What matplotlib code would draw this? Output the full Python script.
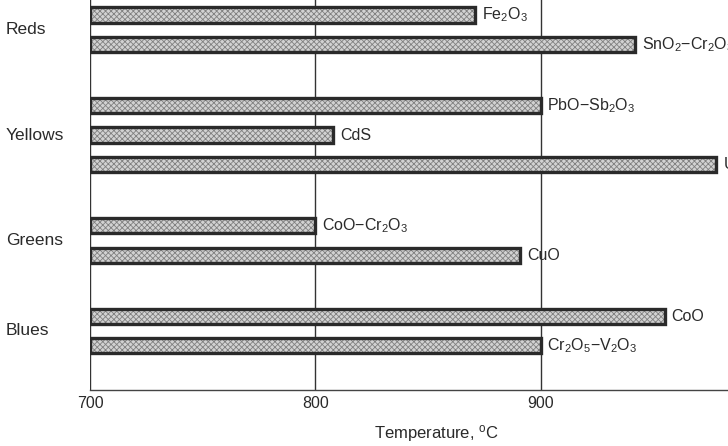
import matplotlib
matplotlib.use("Agg")
import matplotlib.pyplot as plt
from matplotlib.transforms import blended_transform_factory

plt.rcParams['font.family'] = ['Liberation Sans', 'DejaVu Sans']
plt.rcParams['mathtext.fontset'] = 'custom'
plt.rcParams['mathtext.rm'] = 'Liberation Sans'
plt.rcParams['mathtext.it'] = 'Liberation Sans'
plt.rcParams['hatch.linewidth'] = 0.6

# ---- data ----
groups = ["Reds", "Yellows", "Greens", "Blues"]
pigments = [
    ["Fe$_2$O$_3$", "SnO$_2$$-$Cr$_2$O$_3$"],
    ["PbO$-$Sb$_2$O$_3$", "CdS", "UO$_3$"],
    ["CoO$-$Cr$_2$O$_3$", "CuO"],
    ["CoO", "Cr$_2$O$_5$$-$V$_2$O$_3$"],
]
max_temp = [
    [871, 942],
    [900, 808, 978],
    [800, 891],
    [955, 900],
]
x_ticks = [700, 800, 900]
x_label = "Temperature, $^{\\mathrm{o}}$C"

# ---- layout ----
W, H = 728, 446
fig = plt.figure(figsize=(W / 100, H / 100), dpi=100)
ax = fig.add_axes([90 / W, (H - 390) / H, 676 / W, 390 / H])

group_gap = 1.07
bar_h = 0.52
ink = '#2a2a2a'

trans = blended_transform_factory(fig.transFigure, ax.transData)
row = 0
for gi, (g, names, vals) in enumerate(zip(groups, pigments, max_temp)):
    ys = []
    for name, v in zip(names, vals):
        y = row + gi * group_gap
        ys.append(y)
        ax.barh(y, v - 700, left=700, height=bar_h, color='#d2d2d2',
                hatch='xxxxxx', edgecolor='#808080', linewidth=0, zorder=3)
        ax.barh(y, v - 700, left=700, height=bar_h, fill=False,
                edgecolor=ink, linewidth=2.4, zorder=4)
        ax.text(v + 3, y, name, va='center', ha='left', fontsize=11.5,
                color=ink, zorder=5)
        row += 1
    ax.text(6 / W, sum(ys) / len(ys), g, transform=trans, va='center',
            ha='left', fontsize=12.5, color=ink)

ax.set_xlim(700, 1000)
ax.set_ylim(12.71, -0.51)
ax.set_xticks(x_ticks)
ax.set_xticklabels([str(t) for t in x_ticks], fontsize=11.5, color=ink)
ax.tick_params(axis='x', length=0, pad=4)
ax.set_yticks([])
ax.grid(axis='x', color='#333333', linewidth=1.0, zorder=1)
for s in ['top', 'right', 'left']:
    ax.spines[s].set_visible(False)
ax.spines['bottom'].set_color('#444444')
ax.spines['bottom'].set_linewidth(1.0)
fig.text(436 / W, 1 - 433 / H, x_label, ha='center', va='center',
         fontsize=12, color=ink)

fig.savefig("out.png", dpi=100)
